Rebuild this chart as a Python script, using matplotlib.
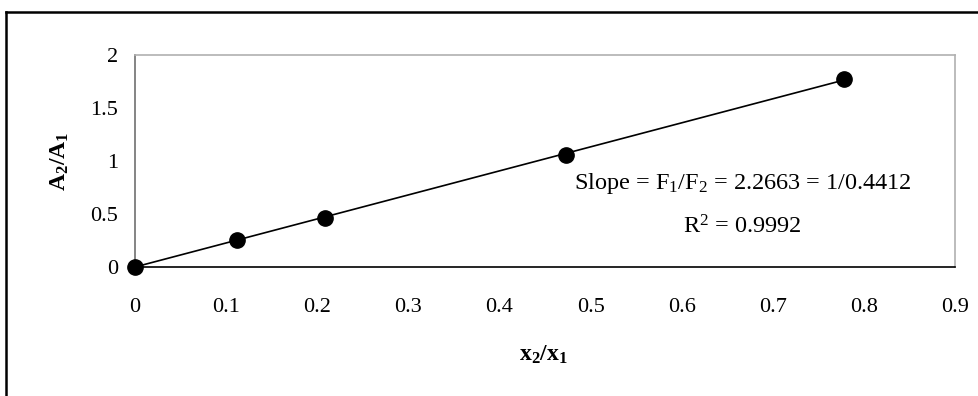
import matplotlib
matplotlib.use("Agg")
import matplotlib.pyplot as plt
from matplotlib.lines import Line2D

plt.rcParams["font.family"] = ["Liberation Serif", "DejaVu Serif"]
plt.rcParams["mathtext.fontset"] = "custom"
plt.rcParams["mathtext.rm"] = "Liberation Serif"
plt.rcParams["mathtext.it"] = "Liberation Serif:italic"
plt.rcParams["mathtext.bf"] = "Liberation Serif:bold"

# Measured ratios
x_ratio = [0.0, 0.112, 0.209, 0.473, 0.778]
a_ratio = [0.0, 0.25, 0.46, 1.06, 1.77]
slope = 2.2663
r_squared = 0.9992

x_ticks = [0, 0.1, 0.2, 0.3, 0.4, 0.5, 0.6, 0.7, 0.8, 0.9]
x_tick_labels = ["0", "0.1", "0.2", "0.3", "0.4", "0.5", "0.6", "0.7", "0.8", "0.9"]
y_ticks = [0, 0.5, 1, 1.5, 2]
y_tick_labels = ["0", "0.5", "1", "1.5", "2"]

fig = plt.figure(figsize=(9.79, 3.96), dpi=100)
ax_rect = [0.1379, 0.3258, 0.8376, 0.5354]
ax = fig.add_axes(ax_rect)

# linear fit through the origin
fit_x = [0.0, max(x_ratio)]
fit_y = [slope * v for v in fit_x]
ax.plot(fit_x, fit_y, color="black", lw=1.2, zorder=2)
ax.plot(x_ratio, a_ratio, linestyle="none", marker="o", ms=11,
        color="black", zorder=3, clip_on=False)

ax.set_xlim(0, 0.9)
ax.set_ylim(0, 2)
ax.set_xticks(x_ticks)
ax.set_xticklabels(x_tick_labels)
ax.set_yticks(y_ticks)
ax.set_yticklabels(y_tick_labels)
ax.tick_params(axis="both", length=0, labelsize=16)
ax.tick_params(axis="x", pad=22)
ax.tick_params(axis="y", pad=12)

for side in ["top", "right"]:
    ax.spines[side].set_color("#b0b0b0")
    ax.spines[side].set_linewidth(1.2)
ax.spines["left"].set_color("#707070")
ax.spines["left"].set_linewidth(1.2)
ax.spines["bottom"].set_color("black")
ax.spines["bottom"].set_linewidth(1.2)

ax.set_xlabel(r"x$_{\mathregular{2}}$/x$_{\mathregular{1}}$", fontsize=17,
              fontweight="bold", va="center")
ax.set_ylabel(r"A$_{\mathregular{2}}$/A$_{\mathregular{1}}$", fontsize=17,
              fontweight="bold", labelpad=14)
# x label centred at figure pixel (543, 355)
fig_w, fig_h = 979, 396
ax_x0, ax_y0 = ax_rect[0] * fig_w, (1 - ax_rect[1]) * fig_h
ax.xaxis.set_label_coords((543 - ax_x0) / (ax_rect[2] * fig_w),
                          -(355 - ax_y0) / (ax_rect[3] * fig_h))

ax.text(0.667, 0.79,
        r"Slope = F$_{\mathregular{1}}$/F$_{\mathregular{2}}$ = "
        + f"{slope:.4f} = 1/{1/slope:.4f}",
        ha="center", va="center", fontsize=17.5)
ax.text(0.667, 0.38, r"R$^{\mathregular{2}}$ = " + f"{r_squared:.4f}",
        ha="center", va="center", fontsize=17.5)

# outer frame lines (top and left edges)
fig.add_artist(Line2D([6 / 979, 1.0], [1 - 12 / 396, 1 - 12 / 396],
                      transform=fig.transFigure, color="black", lw=1.8))
fig.add_artist(Line2D([6 / 979, 6 / 979], [0, 1 - 12 / 396],
                      transform=fig.transFigure, color="black", lw=1.8))

fig.savefig("out.png", dpi=100)
